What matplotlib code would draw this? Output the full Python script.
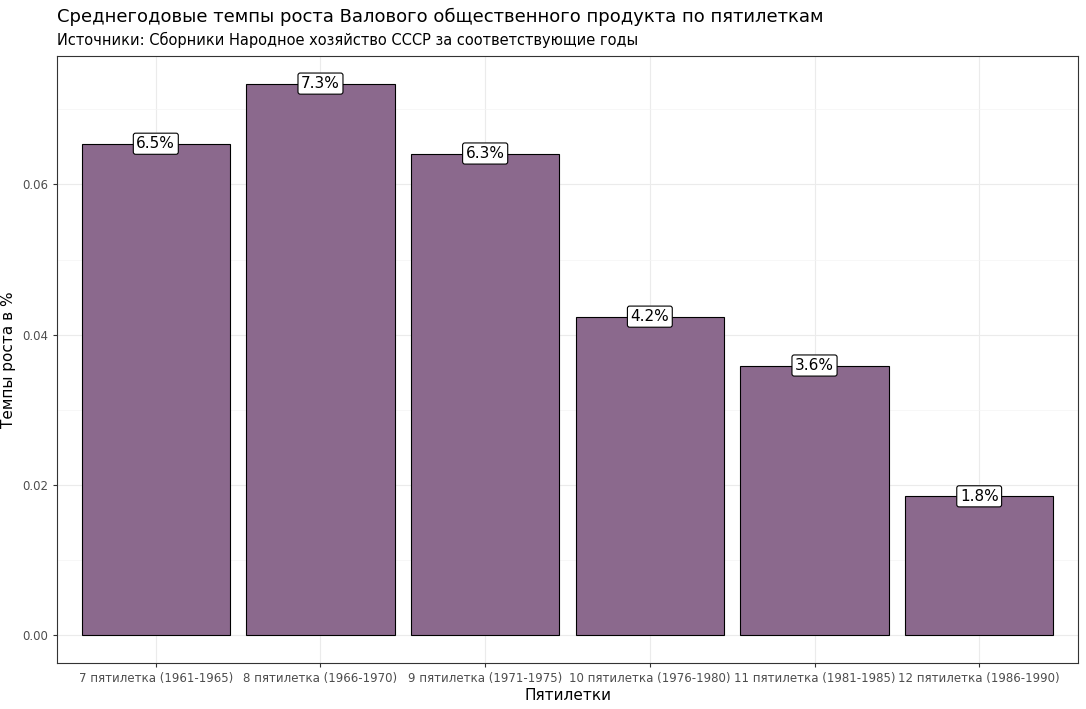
import matplotlib
matplotlib.use("Agg")
import matplotlib.pyplot as plt
from matplotlib.ticker import MultipleLocator

categories = ["7 пятилетка (1961-1965)", "8 пятилетка (1966-1970)", "9 пятилетка (1971-1975)",
              "10 пятилетка (1976-1980)", "11 пятилетка (1981-1985)", "12 пятилетка (1986-1990)"]
values = [0.0654, 0.0734, 0.0641, 0.0424, 0.0359, 0.0185]
labels = ["6.5%", "7.3%", "6.3%", "4.2%", "3.6%", "1.8%"]

fig = plt.figure(figsize=(10.86, 7.09), dpi=100)
ax = fig.add_axes([57/1086, 1-663/709, (1078-57)/1086, (663-56)/709])
x = list(range(len(categories)))
ax.bar(x, values, width=0.9, color="#8B698D", edgecolor="black", linewidth=0.8, zorder=3)
for xi, v, l in zip(x, values, labels):
    ax.text(xi, v, l, ha="center", va="center", fontsize=11, zorder=4,
            bbox=dict(boxstyle="round,pad=0.2,rounding_size=0.15", fc="white", ec="black", lw=0.8))
ax.set_xlim(-0.6, 5.6)
top = max(values)
ax.set_ylim(-0.05*top, 1.05*top)
ax.yaxis.set_major_locator(MultipleLocator(0.02))
ax.yaxis.set_minor_locator(MultipleLocator(0.01))
ax.set_yticks([0, 0.02, 0.04, 0.06])
ax.set_yticklabels(["0.00", "0.02", "0.04", "0.06"])
ax.set_xticks(x)
ax.set_xticklabels(categories)
ax.grid(True, which="major", color="#EBEBEB", lw=0.8, zorder=0)
ax.grid(True, which="minor", axis="y", color="#F4F4F4", lw=0.5, zorder=0)
ax.tick_params(axis="both", which="major", labelsize=8.5, labelcolor="#4D4D4D", color="#333333", length=3)
ax.tick_params(axis="y", which="minor", length=0)
for s in ax.spines.values():
    s.set_color("#333333"); s.set_linewidth(0.8)
ax.set_xlabel("Пятилетки", fontsize=11, labelpad=2)
ax.set_ylabel("Темпы роста в %", fontsize=11)
fig.text(57/1086, 1-17/709, "Среднегодовые темпы роста Валового общественного продукта по пятилеткам",
         fontsize=13, va="center")
fig.text(57/1086, 1-40/709, "Источники: Сборники Народное хозяйство СССР за соответствующие годы",
         fontsize=10.5, va="center")
fig.savefig("out.png", dpi=100, facecolor="white")
